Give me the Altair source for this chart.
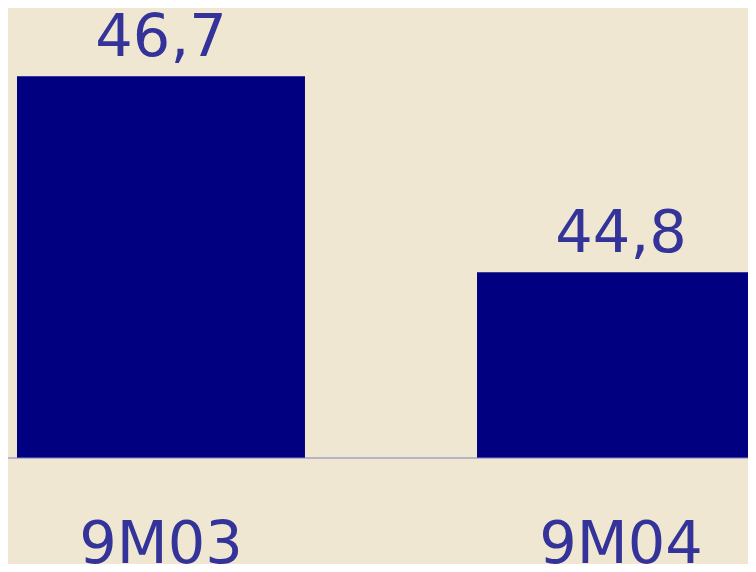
import altair as alt
import pandas as pd

# ---- data ----
categories = ["9M03", "9M04"]
values = [46.7, 44.8]
labels = [f"{v:.1f}".replace(".", ",") for v in values]
baseline = 43.0
top_value = 43.0 + 450 / 103.16

df = pd.DataFrame({"period": categories, "value": values, "label": labels})
base_df = pd.DataFrame({"base": [baseline]})

BG = "#EFE7D1"
BAR = "#000080"
TXT = "#333399"
LINE = "#8080C0"
FONT = "DejaVu Sans"

x_enc = alt.X(
    "period:N",
    sort=categories,
    title=None,
    scale=alt.Scale(range=[9, 757], paddingInner=0.374, paddingOuter=0),
    axis=alt.Axis(
        domain=False, ticks=False, tickSize=0, grid=False, labelAngle=0,
        labelFontSize=59, labelColor=TXT, labelFont=FONT,
        labelPadding=104, labelBaseline="alphabetic",
    ),
)
y_scale = alt.Scale(domain=[baseline, top_value], zero=False, nice=False)

bars = alt.Chart(df).mark_bar(color=BAR).encode(
    x=x_enc,
    y=alt.Y("value:Q", scale=y_scale, axis=None),
    y2=alt.datum(baseline),
)

text = alt.Chart(df).mark_text(
    color=TXT, font=FONT, fontSize=59, baseline="alphabetic", dy=-20
).encode(
    x=alt.X("period:N", sort=categories),
    y=alt.Y("value:Q"),
    text="label:N",
)

rule = alt.Chart(base_df).mark_rule(color=LINE, strokeWidth=1.2).encode(
    y=alt.Y("base:Q"),
    x=alt.value(0),
    x2=alt.value(740),
)

chart = (
    alt.layer(bars, rule, text)
    .properties(
        width=740,
        height=450,
        background=BG,
        padding={"left": 0, "top": 0, "right": 0, "bottom": 106},
        autosize=alt.AutoSizeParams(type="none"),
    )
    .configure_view(stroke=None)
)

chart.save("out.html", embed_options={"renderer": "svg", "actions": False})
